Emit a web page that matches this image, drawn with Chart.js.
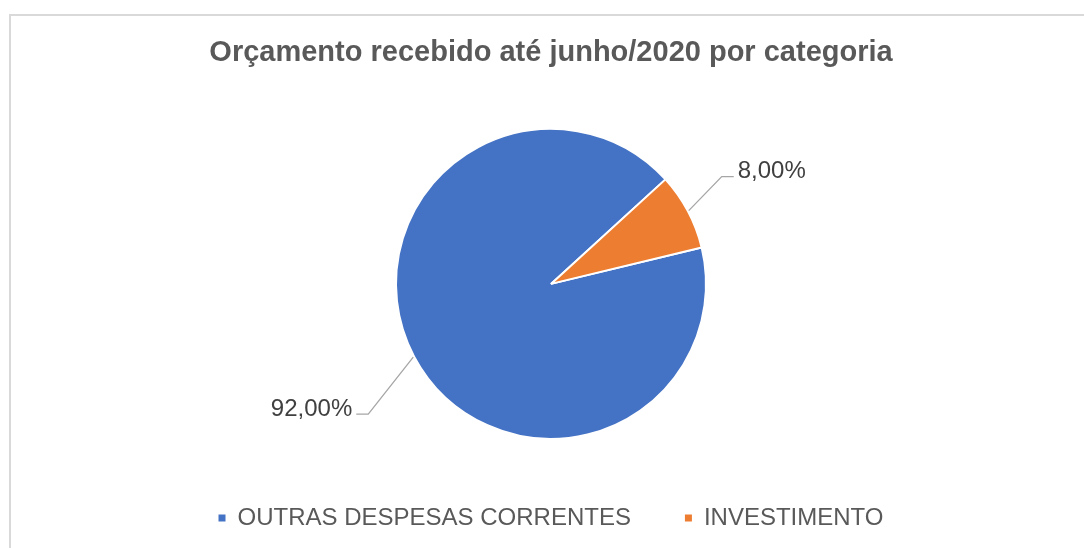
<!DOCTYPE html>
<html>
<head>
<meta charset="utf-8">
<title>Orçamento por categoria</title>
<script src="https://cdn.jsdelivr.net/npm/chart.js@4.4.1/dist/chart.umd.min.js"></script>
<style>
    body { margin: 0; background: #ffffff; }
    #frame {
        position: absolute;
        left: 9px;
        top: 14px;
        width: 1100px;
        height: 560px;
        border: 2px solid #d9d9d9;
    }
    #budgetChart { position: absolute; left: 0; top: 0; }
</style>
</head>
<body>
<div id="frame"></div>
<canvas id="budgetChart" width="1084" height="548"></canvas>
<script>
// Chart data
const categories = ['OUTRAS DESPESAS CORRENTES', 'INVESTIMENTO'];
const shares = [92, 8];
const sliceColors = ['#4472C4', '#ED7D31'];

const fontFamily = '"Liberation Sans", Arial, sans-serif';

function formatPercent(value) {
    return value.toFixed(2).replace('.', ',') + '%';
}

// Leader lines + labels drawn outside the slices (Excel style)
const outsideLabels = {
    id: 'outsideLabels',
    afterDatasetsDraw(chart, args, opts) {
        const ctx = chart.ctx;
        const meta = chart.getDatasetMeta(0);
        meta.data.forEach((arc, i) => {
            const p = arc.getProps(['x', 'y', 'startAngle', 'endAngle', 'outerRadius'], true);
            const mid = (p.startAngle + p.endAngle) / 2;
            const sx = p.x + Math.cos(mid) * (p.outerRadius + 1);
            const sy = p.y + Math.sin(mid) * (p.outerRadius + 1);
            const off = opts.elbows[i];
            const ex = sx + off[0];
            const ey = sy + off[1];
            const dir = off[0] >= 0 ? 1 : -1;
            const tx = ex + dir * 12;

            ctx.save();
            ctx.strokeStyle = '#a6a6a6';
            ctx.lineWidth = 1.3;
            ctx.beginPath();
            ctx.moveTo(sx, sy);
            ctx.lineTo(ex, ey);
            ctx.lineTo(tx, ey);
            ctx.stroke();

            ctx.fillStyle = '#404040';
            ctx.font = '24px ' + fontFamily;
            ctx.textBaseline = 'middle';
            ctx.textAlign = dir > 0 ? 'left' : 'right';
            ctx.fillText(formatPercent(shares[i]), tx + dir * 4, ey - 5);
            ctx.restore();
        });
    }
};

const ctx = document.getElementById('budgetChart').getContext('2d');
new Chart(ctx, {
    type: 'pie',
    data: {
        labels: categories,
        datasets: [{
            data: shares,
            backgroundColor: sliceColors,
            borderColor: '#ffffff',
            borderWidth: 2,
            radius: 155
        }]
    },
    options: {
        responsive: false,
        animation: false,
        rotation: 76.4,
        layout: {
            padding: { left: 18, right: 0, top: 0, bottom: 8 }
        },
        plugins: {
            title: {
                display: true,
                text: 'Orçamento recebido até junho/2020 por categoria',
                color: '#595959',
                font: { family: fontFamily, size: 29, weight: 'bold' },
                padding: { top: 36, bottom: 45 }
            },
            legend: {
                position: 'bottom',
                labels: {
                    color: '#595959',
                    font: { family: fontFamily, size: 24 },
                    boxWidth: 7,
                    boxHeight: 7,
                    padding: 54,
                    generateLabels(chart) {
                        const items = Chart.overrides.pie.plugins.legend.labels.generateLabels(chart);
                        items.forEach(item => { item.lineWidth = 0; });
                        return items;
                    }
                }
            },
            tooltip: { enabled: false },
            outsideLabels: {
                elbows: [[-45, 57], [33, -34]]
            }
        }
    },
    plugins: [outsideLabels]
});
</script>
</body>
</html>
